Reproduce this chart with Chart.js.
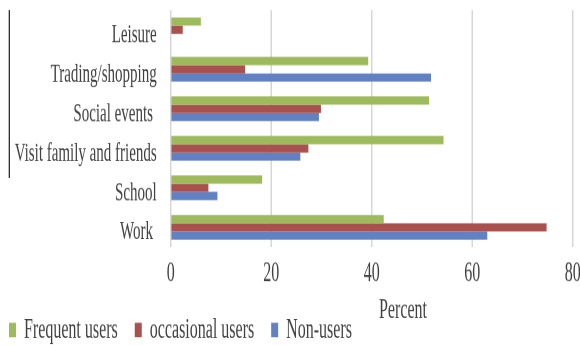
<!DOCTYPE html>
<html><head><meta charset="utf-8">
<script src="https://cdn.jsdelivr.net/npm/chart.js@4/dist/chart.umd.min.js"></script>
<style>
html,body{margin:0;padding:0;background:#fff;}
#wrap{width:580px;height:345px;}
canvas{display:block;}
</style></head><body>
<div id="wrap"><canvas id="c" width="580" height="192"></canvas></div>
<script>
const categories = ['Leisure', 'Trading/shopping', 'Social events ', 'Visit family and friends', 'School', 'Work '];
const seriesNames = ['Frequent users', 'occasional users', 'Non-users'];
const frequentUsers = [6.0, 39.3, 51.4, 54.3, 18.2, 42.4];
const occasionalUsers = [2.4, 14.8, 29.9, 27.4, 7.5, 74.8];
const nonUsers = [0, 51.8, 29.5, 25.8, 9.3, 63.0];
const xTickValues = [0, 20, 40, 60, 80];
const axisTitle = 'Percent';

const serif = '"Liberation Serif", "Times New Roman", serif';
Chart.defaults.color = '#404040';
Chart.defaults.font.family = serif;

const extras = {
  id: 'extras',
  afterDraw(chart) {
    const {ctx, chartArea: a} = chart;
    ctx.save();
    ctx.font = '16px ' + serif;
    ctx.fillStyle = '#404040';
    ctx.textAlign = 'center';
    ctx.textBaseline = 'alphabetic';
    ctx.fillText(axisTitle, (a.left + a.right) / 2 + 31.3, a.bottom + 39.5);
    ctx.strokeStyle = '#1a1a1a';
    ctx.lineWidth = 1.2;
    ctx.beginPath();
    ctx.moveTo(9.3, a.top);
    ctx.lineTo(9.3, 99);
    ctx.stroke();
    ctx.restore();
  }
};

const canvas = document.getElementById('c');
new Chart(canvas, {
  type: 'bar',
  data: {
    labels: categories,
    datasets: [
      {label: seriesNames[0], data: frequentUsers, backgroundColor: '#9DBB5C'},
      {label: seriesNames[1], data: occasionalUsers, backgroundColor: '#A8514E'},
      {label: seriesNames[2], data: nonUsers, backgroundColor: '#6281C2'}
    ]
  },
  options: {
    indexAxis: 'y',
    responsive: false,
    devicePixelRatio: 2,
    animation: false,
    categoryPercentage: 0.625,
    barPercentage: 1,
    layout: {padding: {left: -8, right: 7.3, top: 5.57, bottom: -9.6}},
    plugins: {
      legend: {
        position: 'bottom',
        align: 'start',
        labels: {boxWidth: 7, boxHeight: 8, padding: 17, font: {size: 16, family: serif}, color: '#404040'}
      },
      tooltip: {enabled: false}
    },
    scales: {
      x: {
        min: 0, max: 80,
        afterBuildTicks(s) { s.ticks = xTickValues.map(v => ({value: v})); },
        ticks: {padding: 5, font: {size: 16, family: serif}, color: '#404040'},
        grid: {color: '#d6d6d6', lineWidth: 1.5, drawTicks: false},
        border: {display: false},
        afterFit(s) { s.height = 21.1; s.paddingLeft = 0; s.paddingRight = 0; }
      },
      y: {
        ticks: {padding: 14, labelOffset: 2.8, font: {size: 15, family: serif}, color: '#404040'},
        grid: {display: false, drawTicks: false},
        border: {display: false},
        afterFit(s) { s.width = 178.7; s.paddingTop = 0; s.paddingBottom = 0; }
      }
    }
  },
  plugins: [extras]
});
canvas.style.width = '580px';
canvas.style.height = '345px';
</script>
</body></html>
